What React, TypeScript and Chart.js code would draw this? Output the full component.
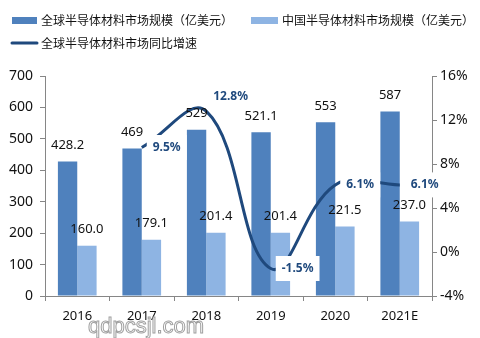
import React, { useEffect, useRef } from "react";
import { Chart, registerables } from "chart.js";

Chart.register(...registerables);

const categories = ["2016", "2017", "2018", "2019", "2020", "2021E"];
const globalMarket = [428.2, 469, 529, 521.1, 553, 587];
const globalLabels = ["428.2", "469", "529", "521.1", "553", "587"];
const chinaMarket = [160.0, 179.1, 201.4, 201.4, 221.5, 237.0];
const chinaLabels = ["160.0", "179.1", "201.4", "201.4", "221.5", "237.0"];
const growthRate: (number | null)[] = [null, 9.5, 12.8, -1.5, 6.1, 6.1];
const growthLabels = ["", "9.5%", "12.8%", "-1.5%", "6.1%", "6.1%"];
const growthLabelPlacement = ["right", "right", "aboveRight", "right", "right", "right"];

const legendNames = [
  "全球半导体材料市场规模（亿美元）",
  "中国半导体材料市场规模（亿美元）",
  "全球半导体材料市场同比增速",
];

const DARK = "#4f81bd";
const LIGHT = "#8eb4e3";
const NAVY = "#1f497d";
const AXIS = "#868686";
const FONT = "'Noto Sans', 'Noto Sans CJK SC', sans-serif";

const labelPlugin = {
  id: "customLabels",
  afterDatasetsDraw(chart: any) {
    const ctx = chart.ctx;
    ctx.save();
    const barSets = [
      { idx: 1, labels: globalLabels },
      { idx: 2, labels: chinaLabels },
    ];
    ctx.font = `13px ${FONT}`;
    ctx.fillStyle = "#111";
    ctx.textAlign = "center";
    ctx.textBaseline = "middle";
    barSets.forEach(({ idx, labels }) => {
      const meta = chart.getDatasetMeta(idx);
      meta.data.forEach((el: any, i: number) => {
        ctx.fillText(labels[i], el.x, el.y - 16);
      });
    });
    const lm = chart.getDatasetMeta(0);
    ctx.font = `bold 12px ${FONT}`;
    lm.data.forEach((el: any, i: number) => {
      const txt = growthLabels[i];
      if (!txt || growthRate[i] === null) return;
      const w = ctx.measureText(txt).width;
      const bw = w + 12;
      const bh = 25;
      let left = el.x + 5;
      let cy = el.y;
      if (growthLabelPlacement[i] === "aboveRight") {
        left = el.x + 1;
        cy = el.y - 15;
      }
      ctx.fillStyle = "#ffffff";
      ctx.fillRect(left, cy - bh / 2, bw, bh);
      ctx.fillStyle = NAVY;
      ctx.textAlign = "center";
      ctx.fillText(txt, left + bw / 2, cy);
    });
    ctx.restore();
  },
  afterDraw(chart: any) {
    const ctx = chart.ctx;
    ctx.save();
    ctx.font = `12px 'Noto Sans CJK SC', sans-serif`;
    ctx.textBaseline = "middle";
    ctx.textAlign = "left";
    ctx.fillStyle = DARK;
    ctx.fillRect(12, 17, 25, 7);
    ctx.fillStyle = "#111";
    ctx.fillText(legendNames[0], 41, 20.5);
    ctx.fillStyle = LIGHT;
    ctx.fillRect(251, 17, 27, 7);
    ctx.fillStyle = "#111";
    ctx.fillText(legendNames[1], 282, 20.5);
    ctx.strokeStyle = NAVY;
    ctx.lineWidth = 3;
    ctx.lineCap = "round";
    ctx.beginPath();
    ctx.moveTo(12, 43);
    ctx.lineTo(37, 43);
    ctx.stroke();
    ctx.fillStyle = "#111";
    ctx.fillText(legendNames[2], 41, 43);
    ctx.font = `22px 'Liberation Sans', sans-serif`;
    ctx.textBaseline = "alphabetic";
    ctx.lineWidth = 1;
    ctx.lineCap = "butt";
    ctx.fillStyle = "rgba(255,255,255,0.9)";
    ctx.fillText("qdpcsjl.com", 88, 333);
    ctx.strokeStyle = "#a0a0a0";
    ctx.strokeText("qdpcsjl.com", 88, 333);
    ctx.restore();
  },
};

export default function App() {
  const ref = useRef<HTMLCanvasElement | null>(null);
  useEffect(() => {
    if (!ref.current) return;
    const chart = new Chart(ref.current, {
      type: "bar",
      data: {
        labels: categories,
        datasets: [
          {
            type: "line",
            label: legendNames[2],
            data: growthRate,
            yAxisID: "y1",
            borderColor: NAVY,
            backgroundColor: NAVY,
            borderWidth: 3,
            pointRadius: 0,
            tension: 0.4,
            order: 0,
          } as any,
          {
            type: "bar",
            label: legendNames[0],
            data: globalMarket,
            backgroundColor: DARK,
            yAxisID: "y",
            categoryPercentage: 0.6,
            barPercentage: 1.0,
            order: 1,
          },
          {
            type: "bar",
            label: legendNames[1],
            data: chinaMarket,
            backgroundColor: LIGHT,
            yAxisID: "y",
            categoryPercentage: 0.6,
            barPercentage: 1.0,
            order: 1,
          },
        ],
      },
      options: {
        responsive: false,
        animation: false,
        devicePixelRatio: 1,
        layout: { padding: { top: 76, left: 0, right: 0, bottom: 0 } },
        plugins: {
          legend: { display: false },
          tooltip: { enabled: false },
        },
        scales: {
          x: {
            grid: {
              offset: true,
              drawOnChartArea: false,
              drawTicks: true,
              tickLength: 5,
              color: AXIS,
            },
            border: { color: AXIS },
            ticks: { font: { family: FONT, size: 13 }, color: "#111", padding: 7 },
            afterFit: (s: any) => {
              s.height = 42;
            },
          },
          y: {
            position: "left",
            min: 0,
            max: 700,
            ticks: { stepSize: 100, font: { family: FONT, size: 14 }, color: "#111", padding: 7 },
            grid: { drawOnChartArea: false, tickLength: 5, color: AXIS },
            border: { color: AXIS },
            afterFit: (s: any) => {
              s.width = 45;
            },
          },
          y1: {
            position: "right",
            min: -4,
            max: 16,
            ticks: {
              stepSize: 4,
              font: { family: FONT, size: 14 },
              color: "#111",
              padding: 3,
              callback: (v: any) => `${v}%`,
            },
            grid: { drawOnChartArea: false, tickLength: 5, color: AXIS },
            border: { color: AXIS },
            afterFit: (s: any) => {
              s.width = 48;
            },
          },
        },
      },
      plugins: [labelPlugin],
    });
    return () => chart.destroy();
  }, []);
  return (
    <div style={{ position: "fixed", left: 0, top: 0, width: 480, height: 338, background: "#fff" }}>
      <canvas ref={ref} width={480} height={338} style={{ width: 480, height: 338, display: "block" }} />
    </div>
  );
}
